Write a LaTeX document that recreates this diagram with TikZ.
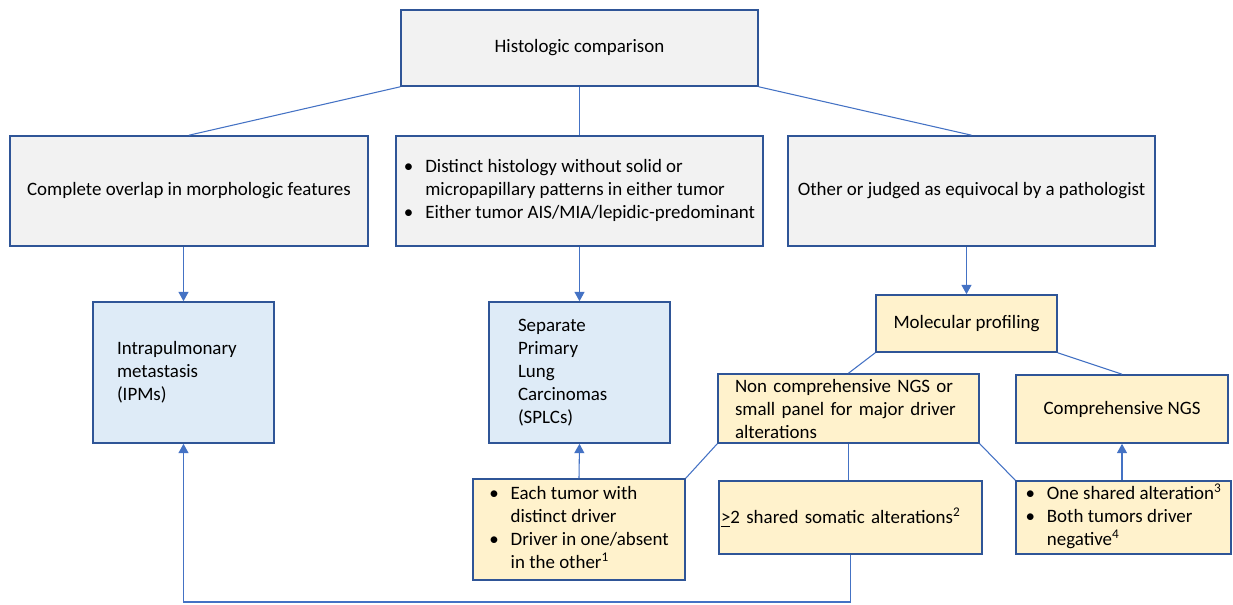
\documentclass[tikz,border=0pt]{standalone}
\usepackage{fontspec}
\setmainfont{Carlito}
\usetikzlibrary{arrows.meta}
\definecolor{boxline}{HTML}{2F5597}
\definecolor{linkblue}{HTML}{4472C4}
\definecolor{grayfill}{HTML}{F2F2F2}
\definecolor{bluefill}{HTML}{DEEBF7}
\definecolor{yellowfill}{HTML}{FFF2CC}
\newcommand{\bulrow}[1]{\textbullet & #1\\}
\begin{document}
\begin{tikzpicture}[x=0.75pt, y=-0.75pt,
  every node/.style={font=\fontsize{14.2}{17.25}\selectfont},
  box/.style={draw=boxline, line width=1.2pt, inner sep=0pt},
  histbox/.style={box, fill=grayfill},
  resbox/.style={box, fill=bluefill},
  molbox/.style={box, fill=yellowfill},
  link/.style={draw=linkblue, line width=0.8pt},
  flow/.style={link, -{Triangle[width=7.5pt,length=7pt]}}]
\useasboundingbox (0,0) rectangle (1233,604);
% histology
\node[histbox, minimum width=267.75pt, minimum height=57pt] (hist) at (579.5,48) {Histologic comparison};
\node[histbox, minimum width=268.5pt, minimum height=82.5pt] (overlap) at (189,191) {Complete overlap in morphologic features};
\node[histbox, minimum width=275.25pt, minimum height=82.5pt] (distinct) at (579.5,191) {\begin{tabular}{@{}l@{\hspace{9pt}}l@{}}
\bulrow{Distinct histology without solid or}
 & micropapillary patterns in either tumor\\
\bulrow{Either tumor AIS/MIA/lepidic-predominant}
\end{tabular}};
\node[histbox, minimum width=275.25pt, minimum height=82.5pt] (other) at (971.5,191) {Other or judged as equivocal by a pathologist};
% outcomes
\node[resbox, minimum width=135.75pt, minimum height=105.75pt, text width=99.75pt, align=left] (ipm) at (183.5,372.5) {Intrapulmonary\\metastasis\\(IPMs)};
\node[resbox, minimum width=135.75pt, minimum height=105.75pt, text width=92.25pt, align=left] (splc) at (579.5,372.5) {Separate\\Primary\\Lung\\Carcinomas\\(SPLCs)};
% molecular
\node[molbox, minimum width=135.75pt, minimum height=42.75pt] (mol) at (966.5,323.5) {Molecular profiling};
\node[molbox, minimum width=195.75pt, minimum height=51.75pt, text width=170.25pt, align=left] (noncomp) at (848.5,408.5) {Non comprehensive NGS or\\small panel for major driver\\alterations};
\node[molbox, minimum width=159pt, minimum height=51pt] (compngs) at (1122,409) {Comprehensive NGS};
\node[molbox, minimum width=159pt, minimum height=75.75pt] (each) at (579,529.5) {\begin{tabular}{@{}l@{\hspace{9pt}}l@{}}
\bulrow{Each tumor with}
 & distinct driver\\
\bulrow{Driver in one/absent}
 & in the other\textsuperscript{1}
\end{tabular}};
\node[molbox, minimum width=197.25pt, minimum height=54.75pt, text width=194.25pt, align=left] (two) at (850.5,517.5) {\underline{>}2 shared somatic alterations\textsuperscript{2}};
\node[molbox, minimum width=161.25pt, minimum height=54.75pt] (one) at (1123.5,517.5) {\begin{tabular}{@{}l@{\hspace{9pt}}l@{}}
\bulrow{One shared alteration\textsuperscript{3}}
\bulrow{Both tumors driver}
 & negative\textsuperscript{4}
\end{tabular}};
\coordinate (floor) at (849,602);
% connectors
\draw[link] (hist.south west) -- (overlap.north);
\draw[link] (hist.south) -- (distinct.north);
\draw[link] (hist.south east) -- (other.north);
\draw[flow] (ipm.north |- overlap.south) -- (ipm.north);
\draw[flow] (distinct.south) -- (splc.north);
\draw[flow] (mol.north |- other.south) -- (mol.north);
\draw[link] (mol.south west) -- (noncomp.north);
\draw[link] (mol.south east) -- (compngs.north);
\draw[link] (noncomp.south west) -- (each.north east);
\draw[link] (noncomp.south) -- (noncomp.south |- two.north);
\draw[link] (noncomp.south east) -- (one.north west);
\draw[flow] (each.north) -- (splc.south);
\draw[flow] (compngs.south |- one.north) -- (compngs.south);
\draw[flow] (floor -| two.south) -- (floor) -| (ipm.south);
\draw[link] (two.south) -- (floor -| two.south);
\end{tikzpicture}
\end{document}
